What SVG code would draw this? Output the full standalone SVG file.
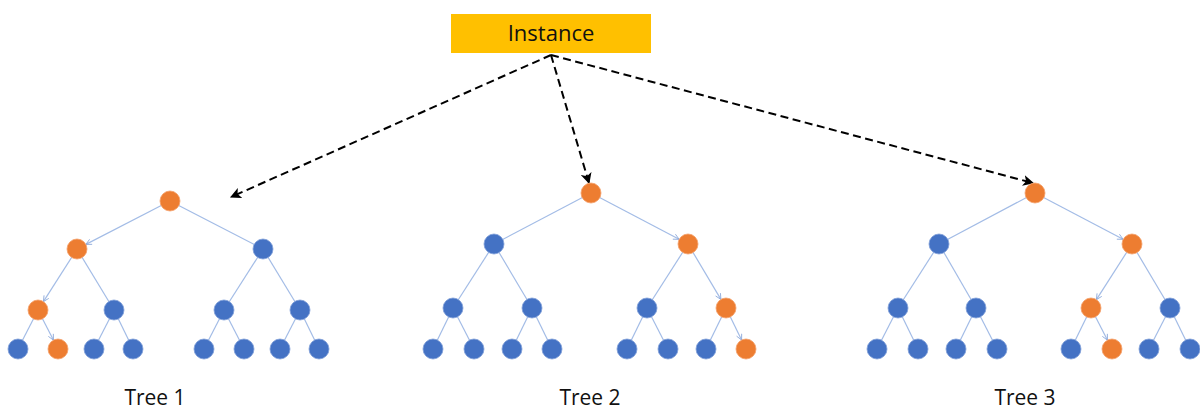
<svg xmlns="http://www.w3.org/2000/svg" width="1200" height="410" viewBox="0 0 1200 410">
<defs>
<marker id="dash-head" viewBox="0 0 10 10" refX="9" refY="5" markerWidth="5.5" markerHeight="5.5" orient="auto" markerUnits="strokeWidth">
<path d="M0,0 L10,5 L0,10 L2.5,5 Z" fill="#000"/>
</marker>
<marker id="edge-head" viewBox="0 0 10 10" refX="9" refY="5" markerWidth="7" markerHeight="7" orient="auto" markerUnits="userSpaceOnUse">
<path d="M1,1 L9,5 L1,9" fill="none" stroke="#8EAADB" stroke-width="1.2"/>
</marker>
<style>
.dash{stroke:#000;stroke-width:2;stroke-dasharray:8 4.5;fill:none;marker-end:url(#dash-head)}
.edge{stroke:#A3BCE6;stroke-width:1.2;fill:none}
.arr{marker-end:url(#edge-head)}
.o{fill:#ED7D31;stroke:#F4A06A;stroke-width:0.8}
.b{fill:#4472C4;stroke:#7F9ED8;stroke-width:0.8}
.lbl{font-family:"Open Sans","Noto Sans","Liberation Sans",sans-serif;font-size:21px;fill:#111;text-anchor:middle}
.big{font-size:22px}
</style>
</defs>
<rect width="1200" height="410" fill="#fff"/>

<g id="connectors">
<line class="dash" x1="551" y1="55" x2="231" y2="197"/>
<line class="dash" x1="551" y1="55" x2="589" y2="183"/>
<line class="dash" x1="551" y1="55" x2="1033" y2="183"/>
<!-- tree 1 -->
<line class="edge arr" x1="170" y1="201" x2="85.9" y2="244.4"/>
<line class="edge" x1="170" y1="201" x2="263" y2="249"/>
<line class="edge arr" x1="77" y1="249" x2="43.4" y2="301.6"/>
<line class="edge" x1="77" y1="249" x2="114" y2="310"/>
<line class="edge" x1="263" y1="249" x2="224" y2="310"/>
<line class="edge" x1="263" y1="249" x2="300" y2="310"/>
<line class="edge" x1="38" y1="310" x2="18" y2="349"/>
<line class="edge arr" x1="38" y1="310" x2="53.4" y2="340.1"/>
<line class="edge" x1="114" y1="310" x2="94" y2="349"/>
<line class="edge" x1="114" y1="310" x2="133" y2="349"/>
<line class="edge" x1="224" y1="310" x2="204" y2="349"/>
<line class="edge" x1="224" y1="310" x2="244" y2="349"/>
<line class="edge" x1="300" y1="310" x2="280" y2="349"/>
<line class="edge" x1="300" y1="310" x2="319" y2="349"/>
<!-- tree 2 -->
<line class="edge" x1="591" y1="193" x2="494" y2="244"/>
<line class="edge arr" x1="591" y1="193" x2="679.1" y2="239.3"/>
<line class="edge" x1="494" y1="244" x2="453" y2="308"/>
<line class="edge" x1="494" y1="244" x2="532" y2="308"/>
<line class="edge" x1="688" y1="244" x2="647" y2="308"/>
<line class="edge arr" x1="688" y1="244" x2="720.9" y2="299.4"/>
<line class="edge" x1="453" y1="308" x2="433" y2="349"/>
<line class="edge" x1="453" y1="308" x2="474" y2="349"/>
<line class="edge" x1="532" y1="308" x2="512" y2="349"/>
<line class="edge" x1="532" y1="308" x2="552" y2="349"/>
<line class="edge" x1="647" y1="308" x2="627" y2="349"/>
<line class="edge" x1="647" y1="308" x2="668" y2="349"/>
<line class="edge" x1="726" y1="308" x2="706" y2="349"/>
<line class="edge arr" x1="726" y1="308" x2="741.6" y2="340"/>
<!-- tree 3 -->
<line class="edge" x1="1035" y1="193" x2="939" y2="244"/>
<line class="edge arr" x1="1035" y1="193" x2="1123.1" y2="239.3"/>
<line class="edge" x1="939" y1="244" x2="898" y2="308"/>
<line class="edge" x1="939" y1="244" x2="976" y2="308"/>
<line class="edge arr" x1="1132" y1="244" x2="1096.4" y2="299.6"/>
<line class="edge" x1="1132" y1="244" x2="1170" y2="308"/>
<line class="edge" x1="898" y1="308" x2="877" y2="349"/>
<line class="edge" x1="898" y1="308" x2="918" y2="349"/>
<line class="edge" x1="976" y1="308" x2="956" y2="349"/>
<line class="edge" x1="976" y1="308" x2="997" y2="349"/>
<line class="edge" x1="1091" y1="308" x2="1071" y2="349"/>
<line class="edge arr" x1="1091" y1="308" x2="1107.4" y2="340.1"/>
<line class="edge" x1="1170" y1="308" x2="1149" y2="349"/>
<line class="edge" x1="1170" y1="308" x2="1190" y2="349"/>
</g>

<g id="instance">
<rect x="451" y="14" width="200" height="39" fill="#FFC000"/>
<text class="lbl big" x="551" y="41">Instance</text>
</g>

<g id="tree1">
<g id="t1-n1"><circle class="o" cx="170" cy="201" r="10"/></g>
<g id="t1-n2"><circle class="o" cx="77" cy="249" r="10"/></g>
<g id="t1-n3"><circle class="b" cx="263" cy="249" r="10"/></g>
<g id="t1-n4"><circle class="o" cx="38" cy="310" r="10"/></g>
<g id="t1-n5"><circle class="b" cx="114" cy="310" r="10"/></g>
<g id="t1-n6"><circle class="b" cx="224" cy="310" r="10"/></g>
<g id="t1-n7"><circle class="b" cx="300" cy="310" r="10"/></g>
<g id="t1-n8"><circle class="b" cx="18" cy="349" r="10"/></g>
<g id="t1-n9"><circle class="o" cx="58" cy="349" r="10"/></g>
<g id="t1-n10"><circle class="b" cx="94" cy="349" r="10"/></g>
<g id="t1-n11"><circle class="b" cx="133" cy="349" r="10"/></g>
<g id="t1-n12"><circle class="b" cx="204" cy="349" r="10"/></g>
<g id="t1-n13"><circle class="b" cx="244" cy="349" r="10"/></g>
<g id="t1-n14"><circle class="b" cx="280" cy="349" r="10"/></g>
<g id="t1-n15"><circle class="b" cx="319" cy="349" r="10"/></g>
<text class="lbl" x="155" y="405">Tree 1</text>
</g>

<g id="tree2">
<g id="t2-n1"><circle class="o" cx="591" cy="193" r="10"/></g>
<g id="t2-n2"><circle class="b" cx="494" cy="244" r="10"/></g>
<g id="t2-n3"><circle class="o" cx="688" cy="244" r="10"/></g>
<g id="t2-n4"><circle class="b" cx="453" cy="308" r="10"/></g>
<g id="t2-n5"><circle class="b" cx="532" cy="308" r="10"/></g>
<g id="t2-n6"><circle class="b" cx="647" cy="308" r="10"/></g>
<g id="t2-n7"><circle class="o" cx="726" cy="308" r="10"/></g>
<g id="t2-n8"><circle class="b" cx="433" cy="349" r="10"/></g>
<g id="t2-n9"><circle class="b" cx="474" cy="349" r="10"/></g>
<g id="t2-n10"><circle class="b" cx="512" cy="349" r="10"/></g>
<g id="t2-n11"><circle class="b" cx="552" cy="349" r="10"/></g>
<g id="t2-n12"><circle class="b" cx="627" cy="349" r="10"/></g>
<g id="t2-n13"><circle class="b" cx="668" cy="349" r="10"/></g>
<g id="t2-n14"><circle class="b" cx="706" cy="349" r="10"/></g>
<g id="t2-n15"><circle class="o" cx="746" cy="349" r="10"/></g>
<text class="lbl" x="590" y="405">Tree 2</text>
</g>

<g id="tree3">
<g id="t3-n1"><circle class="o" cx="1035" cy="193" r="10"/></g>
<g id="t3-n2"><circle class="b" cx="939" cy="244" r="10"/></g>
<g id="t3-n3"><circle class="o" cx="1132" cy="244" r="10"/></g>
<g id="t3-n4"><circle class="b" cx="898" cy="308" r="10"/></g>
<g id="t3-n5"><circle class="b" cx="976" cy="308" r="10"/></g>
<g id="t3-n6"><circle class="o" cx="1091" cy="308" r="10"/></g>
<g id="t3-n7"><circle class="b" cx="1170" cy="308" r="10"/></g>
<g id="t3-n8"><circle class="b" cx="877" cy="349" r="10"/></g>
<g id="t3-n9"><circle class="b" cx="918" cy="349" r="10"/></g>
<g id="t3-n10"><circle class="b" cx="956" cy="349" r="10"/></g>
<g id="t3-n11"><circle class="b" cx="997" cy="349" r="10"/></g>
<g id="t3-n12"><circle class="b" cx="1071" cy="349" r="10"/></g>
<g id="t3-n13"><circle class="o" cx="1112" cy="349" r="10"/></g>
<g id="t3-n14"><circle class="b" cx="1149" cy="349" r="10"/></g>
<g id="t3-n15"><circle class="b" cx="1190" cy="349" r="10"/></g>
<text class="lbl" x="1025" y="405">Tree 3</text>
</g>
</svg>
